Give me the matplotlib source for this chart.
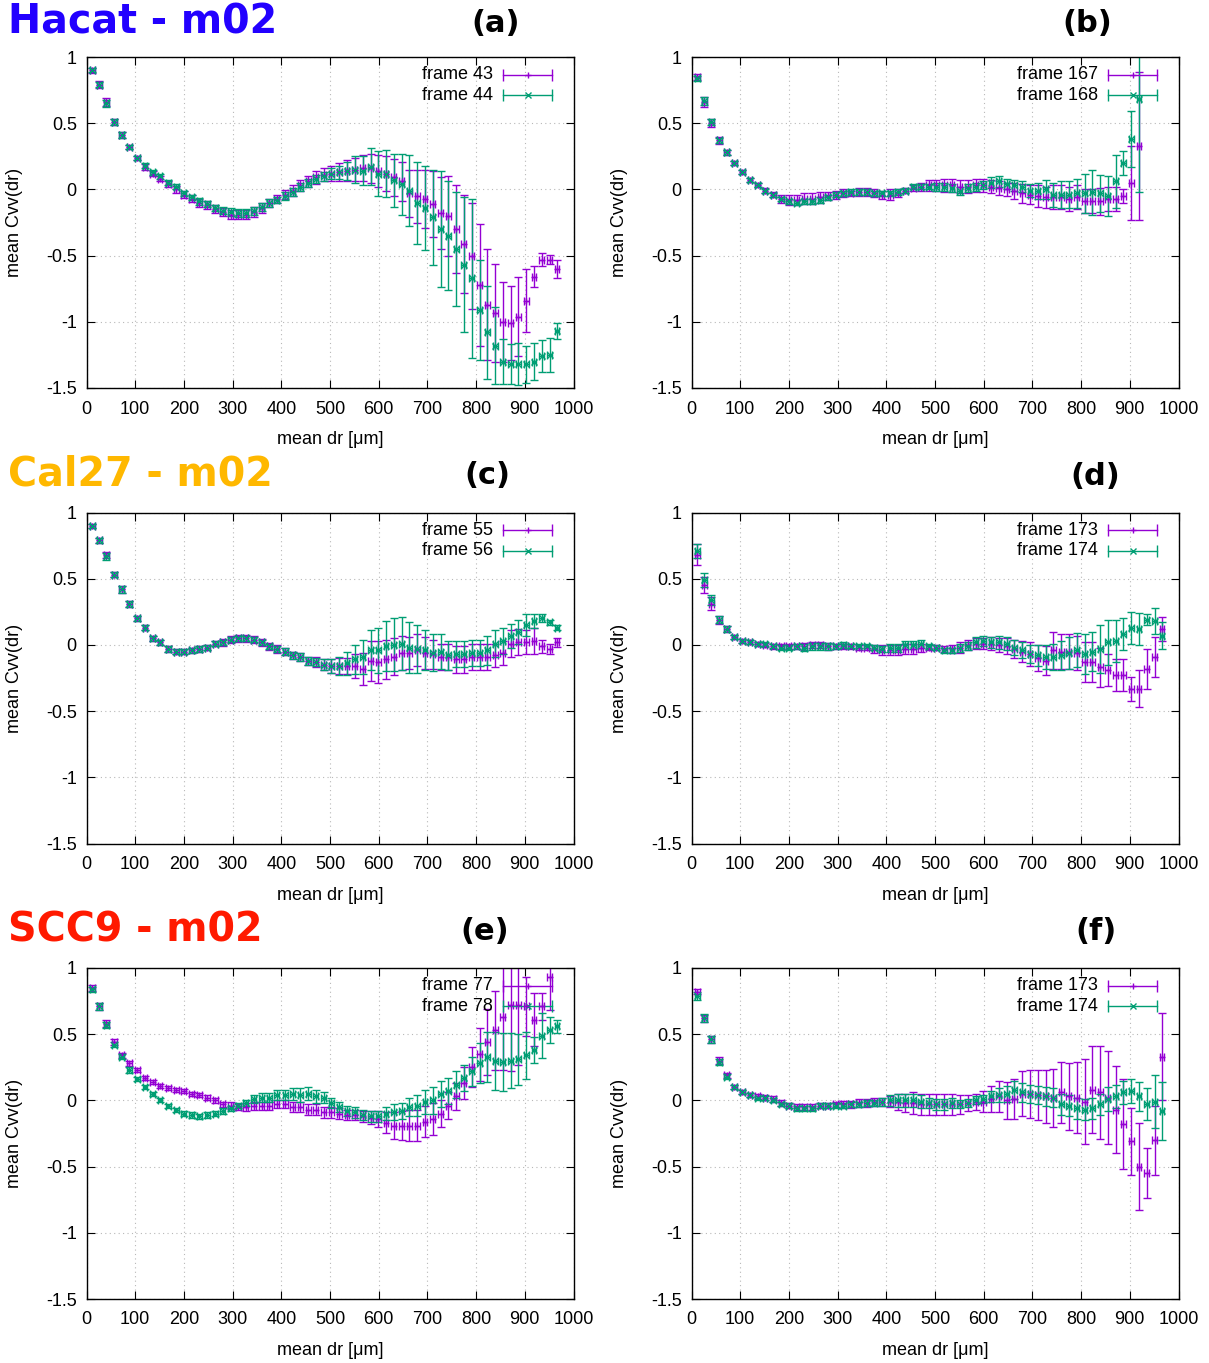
import numpy as np
import matplotlib
matplotlib.use('Agg')
import matplotlib.pyplot as plt
from matplotlib.ticker import FuncFormatter, MultipleLocator

plt.rcParams['font.family'] = ['Liberation Sans', 'DejaVu Sans']
plt.rcParams['axes.unicode_minus'] = False

nan = np.nan

# mean dr of each bin [um]
dr = [12, 26, 41, 57, 72, 88, 104, 120, 136, 151,
      168, 184, 200, 216, 232, 248, 264, 280, 296, 312,
      327, 343, 360, 375, 391, 408, 423, 439, 455, 471,
      487, 503, 519, 535, 551, 567, 584, 599, 615, 631,
      647, 663, 679, 695, 711, 727, 743, 759, 775, 791,
      807, 823, 839, 855, 871, 887, 903, 919, 935, 951,
      966]
dr_err = 5

#---------------- (a) Hacat, frame 43 / 44 ----------------
a_f43 = [0.90, 0.79, 0.66, 0.51, 0.41, 0.32, 0.24, 0.17, 0.12, 0.08,
         0.04, 0.00, -0.04, -0.07, -0.10, -0.12, -0.15, -0.17, -0.19, -0.19,
         -0.19, -0.17, -0.14, -0.10, -0.07, -0.04, -0.01, 0.03, 0.06, 0.09,
         0.11, 0.12, 0.13, 0.14, 0.15, 0.16, 0.16, 0.14, 0.12, 0.09,
         0.06, -0.03, -0.05, -0.07, -0.11, -0.18, -0.20, -0.30, -0.41, -0.50,
         -0.72, -0.87, -0.93, -1.00, -1.01, -0.96, -0.84, -0.66, -0.53, -0.53,
         -0.60]
a_f43_err = [0.02, 0.025, 0.03, 0.02, 0.02, 0.015, 0.015, 0.02, 0.02, 0.02,
             0.02, 0.025, 0.025, 0.025, 0.03, 0.03, 0.03, 0.03, 0.035, 0.035,
             0.035, 0.035, 0.035, 0.03, 0.03, 0.035, 0.04, 0.04, 0.04, 0.05,
             0.05, 0.06, 0.07, 0.08, 0.09, 0.10, 0.11, 0.12, 0.13, 0.14,
             0.15, 0.18, 0.20, 0.22, 0.25, 0.27, 0.30, 0.33, 0.37, 0.40,
             0.46, 0.42, 0.37, 0.30, 0.28, 0.30, 0.24, 0.08, 0.05, 0.035,
             0.07]
a_f44 = [0.90, 0.79, 0.65, 0.51, 0.41, 0.32, 0.24, 0.18, 0.13, 0.10,
         0.05, 0.02, -0.03, -0.06, -0.09, -0.11, -0.14, -0.16, -0.17, -0.18,
         -0.18, -0.16, -0.13, -0.10, -0.08, -0.05, -0.02, 0.02, 0.05, 0.08,
         0.10, 0.12, 0.13, 0.14, 0.15, 0.14, 0.17, 0.12, 0.12, 0.07,
         0.04, -0.01, -0.10, -0.14, -0.21, -0.30, -0.35, -0.45, -0.57, -0.67,
         -0.91, -1.08, -1.18, -1.30, -1.32, -1.32, -1.32, -1.30, -1.26, -1.25,
         -1.07]
a_f44_err = [0.015, 0.02, 0.025, 0.02, 0.02, 0.015, 0.015, 0.02, 0.02, 0.02,
             0.02, 0.02, 0.02, 0.02, 0.025, 0.025, 0.025, 0.025, 0.03, 0.03,
             0.03, 0.03, 0.03, 0.03, 0.025, 0.03, 0.03, 0.03, 0.03, 0.03,
             0.035, 0.04, 0.05, 0.07, 0.10, 0.11, 0.14, 0.17, 0.18, 0.20,
             0.23, 0.27, 0.31, 0.32, 0.36, 0.44, 0.41, 0.43, 0.51, 0.60,
             0.38, 0.35, 0.29, 0.17, 0.15, 0.16, 0.14, 0.14, 0.12, 0.13,
             0.06]

#---------------- (b) Hacat, frame 167 / 168 ----------------
b_f167 = [0.85, 0.66, 0.50, 0.37, 0.28, 0.20, 0.13, 0.07, 0.03, -0.01,
          -0.04, -0.07, -0.08, -0.08, -0.07, -0.07, -0.06, -0.05, -0.04, -0.03,
          -0.03, -0.02, -0.02, -0.03, -0.04, -0.04, -0.03, -0.01, 0.01, 0.02,
          0.03, 0.03, 0.03, 0.03, 0.02, 0.02, 0.03, 0.03, 0.02, 0.01,
          0.00, -0.01, -0.03, -0.04, -0.05, -0.06, -0.06, -0.06, -0.07, -0.06,
          -0.09, -0.09, -0.09, -0.07, -0.07, -0.05, 0.05, 0.33, nan, nan,
          nan]
b_f167_err = [0.025, 0.04, 0.03, 0.025, 0.02, 0.015, 0.015, 0.015, 0.015, 0.02,
              0.02, 0.03, 0.04, 0.04, 0.04, 0.04, 0.04, 0.03, 0.03, 0.03,
              0.02, 0.03, 0.03, 0.03, 0.03, 0.04, 0.03, 0.02, 0.02, 0.03,
              0.04, 0.04, 0.05, 0.05, 0.05, 0.05, 0.05, 0.05, 0.05, 0.05,
              0.05, 0.06, 0.07, 0.07, 0.08, 0.08, 0.09, 0.09, 0.09, 0.09,
              0.09, 0.09, 0.10, 0.09, 0.09, 0.05, 0.28, 0.56, nan, nan,
              nan]
b_f168 = [0.84, 0.67, 0.51, 0.37, 0.28, 0.20, 0.13, 0.07, 0.03, -0.01,
          -0.04, -0.07, -0.09, -0.10, -0.09, -0.09, -0.08, -0.06, -0.04, -0.03,
          -0.02, -0.02, -0.02, -0.03, -0.03, -0.03, -0.02, -0.01, 0.02, 0.02,
          0.02, 0.02, 0.02, 0.01, -0.01, 0.01, 0.02, 0.03, 0.05, 0.06,
          0.04, 0.03, 0.02, -0.01, -0.01, 0.00, -0.04, -0.04, -0.04, -0.03,
          -0.03, -0.02, -0.03, -0.05, 0.06, 0.20, 0.38, 0.68, nan, nan,
          nan]
b_f168_err = [0.02, 0.03, 0.025, 0.02, 0.02, 0.015, 0.015, 0.015, 0.015, 0.015,
              0.015, 0.015, 0.02, 0.02, 0.02, 0.02, 0.02, 0.02, 0.02, 0.02,
              0.02, 0.02, 0.02, 0.02, 0.02, 0.02, 0.02, 0.02, 0.02, 0.02,
              0.02, 0.03, 0.03, 0.03, 0.03, 0.03, 0.03, 0.03, 0.04, 0.04,
              0.04, 0.04, 0.04, 0.05, 0.06, 0.07, 0.09, 0.10, 0.10, 0.11,
              0.15, 0.17, 0.14, 0.15, 0.20, 0.09, 0.21, 0.70, nan, nan,
              nan]

#---------------- (c) Cal27, frame 55 / 56 ----------------
c_f55 = [0.90, 0.79, 0.68, 0.53, 0.42, 0.31, 0.20, 0.13, 0.05, 0.02,
         -0.03, -0.05, -0.05, -0.04, -0.03, -0.02, 0.01, 0.02, 0.04, 0.05,
         0.05, 0.04, 0.02, -0.01, -0.03, -0.05, -0.08, -0.09, -0.12, -0.13,
         -0.15, -0.16, -0.16, -0.16, -0.16, -0.18, -0.12, -0.13, -0.11, -0.09,
         -0.06, -0.06, -0.04, -0.06, -0.07, -0.09, -0.09, -0.11, -0.11, -0.09,
         -0.09, -0.09, -0.08, -0.06, 0.01, 0.02, 0.02, 0.03, -0.01, -0.03,
         0.02]
c_f55_err = [0.015, 0.02, 0.025, 0.02, 0.025, 0.02, 0.02, 0.02, 0.02, 0.02,
             0.02, 0.02, 0.02, 0.02, 0.02, 0.02, 0.02, 0.025, 0.025, 0.025,
             0.025, 0.025, 0.025, 0.025, 0.03, 0.03, 0.03, 0.03, 0.03, 0.035,
             0.04, 0.05, 0.06, 0.06, 0.09, 0.12, 0.15, 0.16, 0.15, 0.14,
             0.13, 0.12, 0.12, 0.12, 0.11, 0.10, 0.10, 0.10, 0.10, 0.10,
             0.10, 0.10, 0.09, 0.09, 0.10, 0.10, 0.09, 0.10, 0.05, 0.035,
             0.035]
c_f56 = [0.90, 0.79, 0.67, 0.53, 0.42, 0.31, 0.20, 0.13, 0.05, 0.02,
         -0.03, -0.05, -0.05, -0.04, -0.03, -0.02, 0.01, 0.02, 0.04, 0.05,
         0.05, 0.04, 0.02, -0.01, -0.03, -0.05, -0.08, -0.09, -0.12, -0.13,
         -0.15, -0.16, -0.16, -0.14, -0.11, -0.09, -0.04, -0.04, -0.01, 0.00,
         0.01, -0.02, -0.03, -0.04, -0.06, -0.05, -0.08, -0.07, -0.07, -0.06,
         -0.06, -0.04, 0.01, 0.03, 0.07, 0.10, 0.15, 0.18, 0.20, 0.17,
         0.13]
c_f56_err = [0.015, 0.02, 0.025, 0.02, 0.025, 0.02, 0.02, 0.02, 0.02, 0.02,
             0.02, 0.02, 0.02, 0.02, 0.02, 0.02, 0.02, 0.02, 0.02, 0.02,
             0.02, 0.02, 0.02, 0.02, 0.025, 0.03, 0.03, 0.03, 0.03, 0.03,
             0.04, 0.05, 0.07, 0.09, 0.11, 0.13, 0.15, 0.17, 0.19, 0.20,
             0.20, 0.19, 0.18, 0.15, 0.14, 0.13, 0.11, 0.10, 0.10, 0.10,
             0.10, 0.11, 0.10, 0.10, 0.09, 0.09, 0.08, 0.05, 0.03, 0.02,
             0.02]

#---------------- (d) Cal27, frame 173 / 174 ----------------
d_f173 = [0.68, 0.45, 0.31, 0.19, 0.12, 0.06, 0.03, 0.02, 0.01, 0.00,
          -0.01, -0.01, -0.01, -0.01, -0.01, 0.00, 0.00, -0.01, -0.01, -0.01,
          -0.01, -0.02, -0.02, -0.03, -0.04, -0.04, -0.04, -0.03, -0.03, -0.02,
          -0.02, -0.02, -0.03, -0.03, -0.02, 0.00, 0.01, 0.01, 0.01, 0.00,
          -0.01, -0.03, -0.05, -0.07, -0.10, -0.12, -0.04, -0.05, -0.05, -0.06,
          -0.13, -0.13, -0.17, -0.19, -0.23, -0.23, -0.33, -0.33, -0.18, -0.09,
          0.12]
d_f173_err = [0.08, 0.06, 0.05, 0.03, 0.02, 0.015, 0.015, 0.015, 0.015, 0.015,
              0.02, 0.02, 0.02, 0.02, 0.025, 0.025, 0.025, 0.025, 0.02, 0.02,
              0.02, 0.02, 0.02, 0.03, 0.04, 0.04, 0.04, 0.04, 0.04, 0.03,
              0.02, 0.02, 0.02, 0.03, 0.04, 0.04, 0.04, 0.04, 0.05, 0.05,
              0.06, 0.07, 0.08, 0.09, 0.10, 0.11, 0.14, 0.13, 0.13, 0.13,
              0.15, 0.15, 0.15, 0.12, 0.12, 0.12, 0.09, 0.14, 0.15, 0.15,
              0.09]
d_f174 = [0.71, 0.49, 0.34, 0.19, 0.12, 0.06, 0.03, 0.02, 0.01, 0.01,
          -0.01, -0.02, -0.02, -0.01, -0.02, -0.01, -0.01, -0.01, -0.01, 0.00,
          -0.01, -0.01, -0.01, -0.02, -0.03, -0.02, -0.02, 0.00, 0.00, 0.01,
          -0.01, -0.02, -0.04, -0.04, -0.02, -0.01, 0.02, 0.03, 0.02, 0.02,
          0.01, -0.02, -0.04, -0.07, -0.08, -0.09, -0.09, -0.08, -0.06, -0.04,
          -0.07, -0.05, -0.03, 0.02, 0.03, 0.08, 0.13, 0.12, 0.19, 0.18,
          0.07]
d_f174_err = [0.05, 0.05, 0.04, 0.025, 0.02, 0.015, 0.015, 0.015, 0.015, 0.015,
              0.015, 0.02, 0.02, 0.02, 0.025, 0.025, 0.025, 0.025, 0.02, 0.02,
              0.015, 0.015, 0.015, 0.02, 0.02, 0.03, 0.03, 0.03, 0.03, 0.03,
              0.02, 0.02, 0.02, 0.02, 0.03, 0.03, 0.04, 0.04, 0.04, 0.05,
              0.05, 0.06, 0.06, 0.07, 0.08, 0.09, 0.10, 0.11, 0.12, 0.13,
              0.15, 0.15, 0.18, 0.17, 0.16, 0.12, 0.12, 0.12, 0.04, 0.10,
              0.10]

#---------------- (e) SCC9, frame 77 / 78 ----------------
e_f77 = [0.85, 0.71, 0.58, 0.44, 0.34, 0.28, 0.23, 0.17, 0.14, 0.11,
         0.09, 0.08, 0.07, 0.05, 0.04, 0.02, 0.00, -0.03, -0.04, -0.05,
         -0.05, -0.04, -0.04, -0.04, -0.03, -0.03, -0.05, -0.05, -0.07, -0.07,
         -0.09, -0.09, -0.10, -0.11, -0.11, -0.12, -0.13, -0.14, -0.17, -0.19,
         -0.19, -0.19, -0.19, -0.16, -0.14, -0.10, -0.04, 0.03, 0.13, 0.25,
         0.35, 0.44, 0.53, 0.63, 0.72, 0.72, 0.71, 0.61, 0.71, 0.93,
         nan]
e_f77_err = [0.02, 0.025, 0.025, 0.02, 0.02, 0.02, 0.015, 0.015, 0.015, 0.015,
             0.015, 0.015, 0.015, 0.015, 0.015, 0.02, 0.02, 0.02, 0.025, 0.025,
             0.03, 0.03, 0.03, 0.03, 0.03, 0.03, 0.035, 0.035, 0.04, 0.04,
             0.04, 0.04, 0.04, 0.04, 0.04, 0.04, 0.05, 0.06, 0.08, 0.10,
             0.11, 0.12, 0.12, 0.12, 0.12, 0.10, 0.10, 0.10, 0.12, 0.15,
             0.20, 0.25, 0.30, 0.40, 0.50, 0.45, 0.22, 0.20, 0.10, 0.25,
             nan]
e_f78 = [0.84, 0.71, 0.57, 0.42, 0.33, 0.23, 0.16, 0.10, 0.05, 0.00,
         -0.04, -0.07, -0.10, -0.11, -0.12, -0.11, -0.10, -0.08, -0.06, -0.04,
         -0.02, 0.01, 0.02, 0.02, 0.04, 0.04, 0.05, 0.04, 0.05, 0.03,
         0.02, -0.02, -0.05, -0.08, -0.09, -0.11, -0.12, -0.12, -0.10, -0.09,
         -0.08, -0.05, -0.04, -0.01, 0.00, 0.05, 0.07, 0.12, 0.17, 0.22,
         0.28, 0.33, 0.30, 0.29, 0.30, 0.31, 0.34, 0.38, 0.49, 0.53,
         0.56]
e_f78_err = [0.02, 0.025, 0.025, 0.02, 0.02, 0.02, 0.015, 0.015, 0.015, 0.015,
             0.015, 0.015, 0.02, 0.02, 0.02, 0.02, 0.02, 0.02, 0.02, 0.02,
             0.025, 0.03, 0.035, 0.035, 0.04, 0.04, 0.045, 0.05, 0.05, 0.05,
             0.04, 0.04, 0.04, 0.04, 0.04, 0.04, 0.04, 0.04, 0.05, 0.06,
             0.06, 0.07, 0.08, 0.09, 0.10, 0.10, 0.10, 0.10, 0.10, 0.11,
             0.15, 0.19, 0.22, 0.22, 0.21, 0.19, 0.18, 0.10, 0.17, 0.10,
             0.05]

#---------------- (f) SCC9, frame 173 / 174 ----------------
f_f173 = [0.82, 0.62, 0.46, 0.30, 0.19, 0.10, 0.06, 0.04, 0.03, 0.02,
          0.01, -0.02, -0.04, -0.05, -0.05, -0.05, -0.04, -0.04, -0.03, -0.03,
          -0.03, -0.02, -0.02, -0.01, -0.01, -0.01, -0.01, -0.02, -0.02, -0.03,
          -0.03, -0.03, -0.03, -0.03, -0.03, -0.02, -0.01, -0.01, 0.01, 0.03,
          0.00, 0.01, 0.05, 0.05, 0.04, 0.03, 0.02, 0.06, 0.03, 0.02,
          -0.01, 0.08, 0.06, 0.02, -0.07, -0.18, -0.31, -0.50, -0.55, -0.30,
          0.33]
f_f173_err = [0.02, 0.025, 0.03, 0.025, 0.02, 0.015, 0.015, 0.015, 0.02, 0.02,
              0.02, 0.02, 0.02, 0.02, 0.02, 0.02, 0.02, 0.02, 0.02, 0.025,
              0.025, 0.03, 0.03, 0.03, 0.03, 0.04, 0.06, 0.07, 0.08, 0.08,
              0.08, 0.08, 0.08, 0.08, 0.07, 0.06, 0.06, 0.08, 0.10, 0.12,
              0.14, 0.15, 0.17, 0.18, 0.19, 0.20, 0.22, 0.23, 0.25, 0.27,
              0.32, 0.33, 0.35, 0.35, 0.33, 0.34, 0.25, 0.33, 0.19, 0.26,
              0.33]
f_f174 = [0.79, 0.62, 0.46, 0.29, 0.18, 0.10, 0.06, 0.04, 0.02, 0.02,
          0.00, -0.03, -0.04, -0.06, -0.06, -0.06, -0.04, -0.04, -0.04, -0.04,
          -0.03, -0.03, -0.02, -0.02, -0.01, 0.00, 0.00, 0.00, 0.00, -0.01,
          -0.02, -0.03, -0.03, -0.02, -0.03, -0.02, 0.00, 0.01, 0.03, 0.04,
          0.05, 0.08, 0.06, 0.05, 0.04, 0.03, 0.02, -0.03, -0.04, -0.06,
          -0.07, -0.06, -0.03, 0.01, 0.03, 0.06, 0.07, 0.03, -0.03, -0.01,
          -0.08]
f_f174_err = [0.03, 0.03, 0.03, 0.02, 0.02, 0.015, 0.015, 0.015, 0.015, 0.015,
              0.015, 0.015, 0.02, 0.02, 0.02, 0.02, 0.02, 0.02, 0.02, 0.02,
              0.02, 0.02, 0.02, 0.02, 0.03, 0.04, 0.05, 0.05, 0.05, 0.05,
              0.04, 0.04, 0.04, 0.04, 0.03, 0.03, 0.03, 0.03, 0.04, 0.05,
              0.06, 0.07, 0.07, 0.07, 0.07, 0.07, 0.07, 0.08, 0.08, 0.08,
              0.08, 0.08, 0.08, 0.09, 0.09, 0.09, 0.09, 0.11, 0.12, 0.20,
              0.22]

panels = [
    ('(a)', ('frame 43', a_f43, a_f43_err), ('frame 44', a_f44, a_f44_err)),
    ('(b)', ('frame 167', b_f167, b_f167_err), ('frame 168', b_f168, b_f168_err)),
    ('(c)', ('frame 55', c_f55, c_f55_err), ('frame 56', c_f56, c_f56_err)),
    ('(d)', ('frame 173', d_f173, d_f173_err), ('frame 174', d_f174, d_f174_err)),
    ('(e)', ('frame 77', e_f77, e_f77_err), ('frame 78', e_f78, e_f78_err)),
    ('(f)', ('frame 173', f_f173, f_f173_err), ('frame 174', f_f174, f_f174_err)),
]
cell_names = ['Hacat - m02', 'Cal27 - m02', 'SCC9 - m02']
cell_colors = ['#2200ff', '#ffb800', '#ff1a00']

#------------------------- 画图 -------------------------
W, H = 1209, 1363
fig = plt.figure(figsize=(W / 100, H / 100), dpi=100)

purple = '#9400d3'
green = '#009e73'

ax_left = [86.5, 691.5]
ax_top = [57, 512.5, 968]
ax_w, ax_h = 487, 331
label_pos = [(496, 23), (1087, 23), (487, 475), (1095, 477), (485, 931), (1096, 931)]

for k, (tag, s1, s2) in enumerate(panels):
    row, col = k // 2, k % 2
    l, t = ax_left[col], ax_top[row]
    ax = fig.add_axes([l / W, 1 - (t + ax_h) / H, ax_w / W, ax_h / H])

    for (name, y, e), c, m in [(s1, purple, '+'), (s2, green, 'x')]:
        ax.errorbar(dr, y, yerr=e, xerr=dr_err, fmt=m, color=c, ms=5, mew=1,
                    elinewidth=1, capsize=3, capthick=1)

    ax.set_xlim(0, 1000)
    ax.set_ylim(-1.5, 1)
    ax.xaxis.set_major_locator(MultipleLocator(100))
    ax.yaxis.set_major_locator(MultipleLocator(0.5))
    ax.yaxis.set_major_formatter(FuncFormatter(lambda v, p: '%g' % v))
    ax.tick_params(direction='in', top=True, right=True, length=6, width=0.8,
                   labelsize=13, pad=7, colors='black')
    ax.tick_params(axis='x', pad=9)
    ax.grid(True, color='#b8b8b8', linestyle=(0, (1, 3)), linewidth=0.8)
    for sp in ax.spines.values():
        sp.set_linewidth(1)
    ax.set_xlabel('mean dr [μm]', fontsize=13)
    ax.set_ylabel('mean Cvv(dr)', fontsize=13)
    ax.xaxis.set_label_coords(0.5, -0.13)
    ax.yaxis.set_label_coords(-0.131, 0.5)

    # gnuplot 风格的图例
    for (name, y, e), c, m, yy in [(s1, purple, '+', 0.946), (s2, green, 'x', 0.885)]:
        ax.text(0.834, yy, name, transform=ax.transAxes, ha='right', va='center', fontsize=13)
        ax.plot([0.856, 0.956], [yy, yy], transform=ax.transAxes, color=c, lw=1)
        ax.plot([0.856, 0.956], [yy, yy], transform=ax.transAxes, color=c, ls='none',
                marker='|', ms=8, mew=1)
        ax.plot([0.906], [yy], transform=ax.transAxes, color=c, marker=m, ms=5, mew=1)

    lx, ly = label_pos[k]
    fig.text(lx / W, 1 - ly / H, tag, ha='center', va='center', fontsize=22,
             fontweight='bold', family='DejaVu Sans')

title_y = [22, 474, 930]
for i in range(3):
    fig.text(8 / W, 1 - title_y[i] / H, cell_names[i], ha='left', va='center',
             fontsize=28.5, fontweight='bold', color=cell_colors[i], family='DejaVu Sans')

fig.savefig('out.png', dpi=100)
